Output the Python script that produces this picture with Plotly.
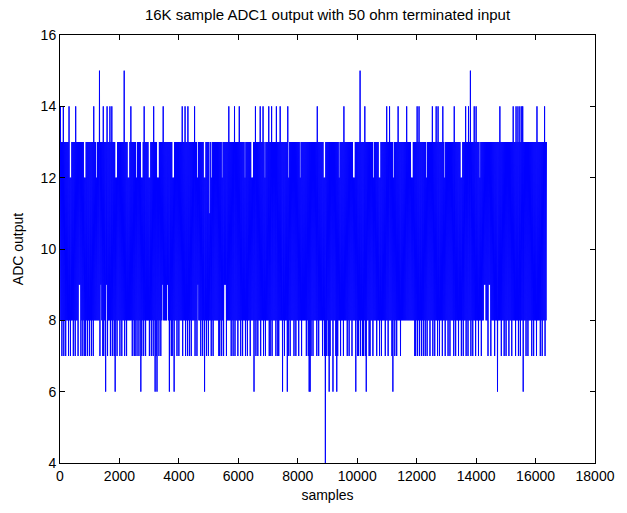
import numpy as np
import plotly.graph_objects as go

# ---------------- data ----------------
N_SAMPLES = 16384
BAND_LOW, BAND_HIGH = 8, 12          # the densely filled range of the output

# excursions above the band (sample index, ADC value)
spike15_x = [1342, 2166, 10112, 13815]
spike14_x = [30, 110, 297, 517, 1132, 1451, 1594, 1671, 1759, 2385, 2825, 3155,
             3485, 4121, 4209, 4297, 4539, 5682, 5858, 6045, 6561, 6726, 6836,
             7034, 7110, 7280, 7418, 7671, 8660, 9539, 10243, 10990, 11078,
             11375, 11650, 12002, 12068, 12529, 12661, 12727, 12892, 13277,
             13650, 13738, 13925, 14013, 14814, 15250, 15350, 15420, 15480,
             15530, 15560, 16050, 16300]
# excursions below the band
spike6_x = [1539, 1868, 2726, 3187, 3276, 3682, 3847, 4857, 6518, 7474, 7639,
            8380, 8430, 9067, 9177, 9321, 9947, 10290, 10320, 11187, 14727, 15600]
spike4_x = [8925]

# positions where the output touches 7
hits7_x = [55, 121, 198, 275, 352, 440, 516, 604, 714, 770, 825, 880, 935, 989,
           1044, 1132, 1341, 1429, 1484, 1593, 1681, 1758, 1813, 1923, 2011,
           2088, 2165, 2231, 2440, 2495, 2528, 2604, 2670, 2747, 2824, 2890,
           3022, 3077, 3132, 3187, 3242, 3330, 3407, 3627, 3682, 3737, 3792,
           3846, 3923, 4011, 4121, 4209, 4286, 4363, 4429, 4539, 4616, 4726,
           4803, 4913, 5001, 5088, 5165, 5330, 5385, 5440, 5495, 5605, 5770,
           5825, 5902, 5989, 6077, 6154, 6231, 6319, 6407, 6517, 6594, 6671,
           6759, 6847, 6924, 7033, 7088, 7143, 7253, 7330, 7364, 7474, 7562,
           7672, 7749, 7858, 7935, 8045, 8133, 8298, 8353, 8441, 8518, 8628,
           8705, 8848, 8903, 8958, 9013, 9100, 9177, 9265, 9342, 9452, 9540,
           9650, 9727, 9837, 10001, 10056, 10111, 10166, 10221, 10276, 10386,
           10441, 10529, 10661, 10749, 10826, 10936, 11046, 11155, 11265,
           11342, 11452, 11925, 11980, 12035, 12090, 12145, 12221, 12287,
           12364, 12441, 12529, 12617, 12694, 12771, 12859, 12969, 13057,
           13134, 13244, 13321, 13408, 13496, 13573, 13650, 13738, 13826,
           13903, 13980, 14090, 14178, 14288, 14397, 14507, 14639, 14727,
           14860, 14940, 15010, 15120, 15200, 15330, 15410, 15500, 15580,
           15690, 15760, 15880, 15950, 16040, 16150, 16230, 16320]

# places where the output stays at or below 12 (white gaps in the 12-13 strip)
gaps13_x = [352, 835, 1231, 1890, 2308, 2583, 2747, 3000, 3297, 3813, 4627,
            4857, 5110, 5451, 6220, 6462, 6891, 7694, 8078, 8903, 9397, 9892,
            10551, 10749, 11210, 11848, 12331, 12947, 13496, 14123]
# places where the output stays at or above 9
floor9_x = [660, 1374, 1571, 3462, 3605, 4638, 5550, 14287, 14452]
# places where the output stays at or below 11
ceil11_x = [5050]

x_ticks = [0, 2000, 4000, 6000, 8000, 10000, 12000, 14000, 16000, 18000]
y_ticks = [4, 6, 8, 10, 12, 14, 16]

# ---------------- build the trace ----------------
STEP = 16
xs = np.arange(0, N_SAMPLES, STEP).astype(float)
k = np.arange(len(xs))
ys = np.where(k % 2 == 0, BAND_LOW, BAND_HIGH).astype(float)
hi_idx = np.where(k % 2 == 1)[0]
lo_idx = np.where(k % 2 == 0)[0]

# 12-13 strip is nearly solid, except for the gaps
ys[hi_idx] = 13
for g in gaps13_x:
    m = np.abs(xs[hi_idx] - g) <= 24
    ys[hi_idx[m]] = BAND_HIGH


def nearest(idx_set, x):
    return idx_set[np.argmin(np.abs(xs[idx_set] - x))]


for h in hits7_x:
    ys[nearest(lo_idx, h)] = 7
for f in floor9_x:
    m = np.abs(xs[lo_idx] - f) <= 20
    ys[lo_idx[m]] = 9
for c in ceil11_x:
    m = np.abs(xs[hi_idx] - c) <= 20
    ys[hi_idx[m]] = 11
for s in spike14_x:
    ys[nearest(hi_idx, s)] = 14
for s in spike15_x:
    ys[nearest(hi_idx, s)] = 15
for s in spike6_x:
    ys[nearest(lo_idx, s)] = 6
for s in spike4_x:
    ys[nearest(lo_idx, s)] = 4

fig = go.Figure()
fig.add_trace(go.Scatter(x=xs, y=ys, mode="lines",
                         line=dict(color="#0000FF", width=1),
                         hoverinfo="skip", showlegend=False))

FONT = "Liberation Sans, Arial, sans-serif"
axis_common = dict(showline=True, linecolor="black", linewidth=1, mirror="ticks",
                   ticks="inside", ticklen=5, tickcolor="black", showgrid=False,
                   zeroline=False, tickfont=dict(family=FONT, size=14, color="black"))
fig.update_xaxes(range=[0, 18000], tickvals=x_ticks, ticktext=[str(v) for v in x_ticks],
                 title=dict(text="samples", font=dict(family=FONT, size=14, color="black"),
                            standoff=7), **axis_common)
fig.update_yaxes(range=[4, 16], tickvals=y_ticks, ticktext=[str(v) for v in y_ticks],
                 title=dict(text="ADC output", font=dict(family=FONT, size=14, color="black"),
                            standoff=13), **axis_common)
fig.update_layout(
    width=627, height=513,
    margin=dict(l=60, r=21, t=35, b=47),
    paper_bgcolor="white", plot_bgcolor="white",
    title=dict(text="16K sample ADC1 output with 50 ohm terminated input",
               font=dict(family=FONT, size=15, color="black"),
               x=0.5, xref="paper", xanchor="center", y=1, yref="container",
               yanchor="top", pad=dict(t=9)),
)
fig.write_html("out.html")
